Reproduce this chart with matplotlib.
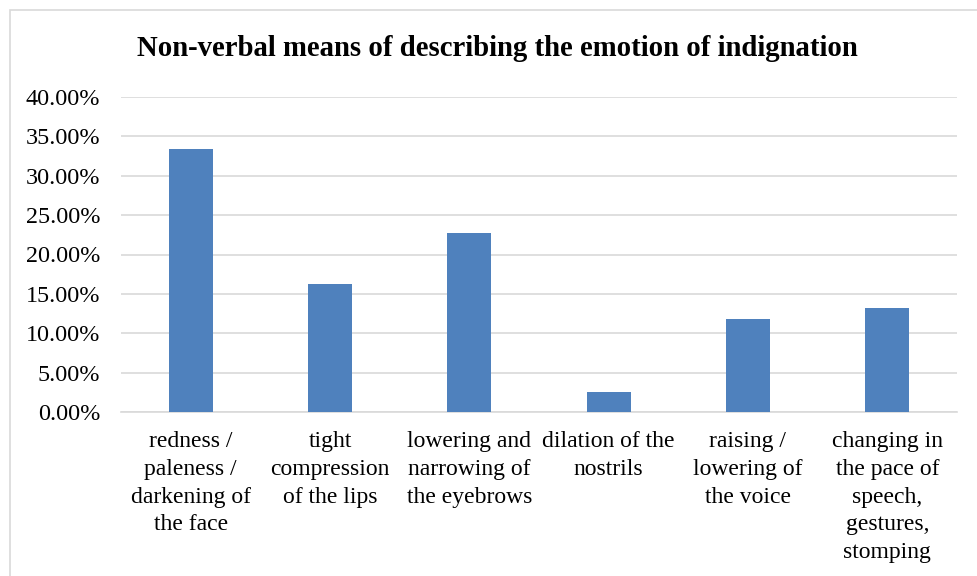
import matplotlib.pyplot as plt
from matplotlib.patches import Rectangle
from matplotlib.ticker import FuncFormatter

plt.rcParams['font.family'] = ['Liberation Serif', 'DejaVu Serif']

# Data
categories = [
    "redness /\npaleness /\ndarkening of\nthe face",
    "tight\ncompression\nof the lips",
    "lowering and\nnarrowing of\nthe eyebrows",
    "dilation of the\nnostrils",
    "raising /\nlowering of\nthe voice",
    "changing in\nthe pace of\nspeech,\ngestures,\nstomping",
]
values = [33.4, 16.3, 22.7, 2.5, 11.8, 13.2]
yticks = [0, 5, 10, 15, 20, 25, 30, 35, 40]

fig = plt.figure(figsize=(9.77, 5.76), dpi=100)
# chart border
fig.patches.append(Rectangle((10 / 977, -0.1), 1.1, (566 / 576) + 0.1, transform=fig.transFigure,
                             fill=False, edgecolor="#d9d9d9", linewidth=1.2))

ax = fig.add_axes([121 / 977, (576 - 412) / 576, (957 - 121) / 977, (412 - 97) / 576])
x = range(len(categories))
ax.bar(x, values, width=0.316, color="#4f81bd", zorder=3)

ax.set_ylim(0, 40)
ax.set_xlim(-0.5, len(categories) - 0.5)
ax.set_yticks(yticks)
ax.yaxis.set_major_formatter(FuncFormatter(lambda v, p: f"{v:.2f}%"))
ax.grid(axis="y", color="#d9d9d9", linewidth=1.2, zorder=0)
ax.set_xticks(list(x))
ax.set_xticklabels(categories, fontsize=17, linespacing=1.41, va="top")
ax.tick_params(axis="y", labelsize=17.4, length=0, pad=15)
ax.tick_params(axis="x", length=0, pad=14)
for s in ["top", "right", "left"]:
    ax.spines[s].set_visible(False)
ax.spines["bottom"].set_color("#d9d9d9")
ax.spines["bottom"].set_linewidth(1.2)

fig.text(497 / 977, 1 - 48 / 576, "Non-verbal means of describing the emotion of indignation",
         ha="center", va="center", fontsize=20.7, fontweight="bold")

fig.savefig("out.png", dpi=100)
